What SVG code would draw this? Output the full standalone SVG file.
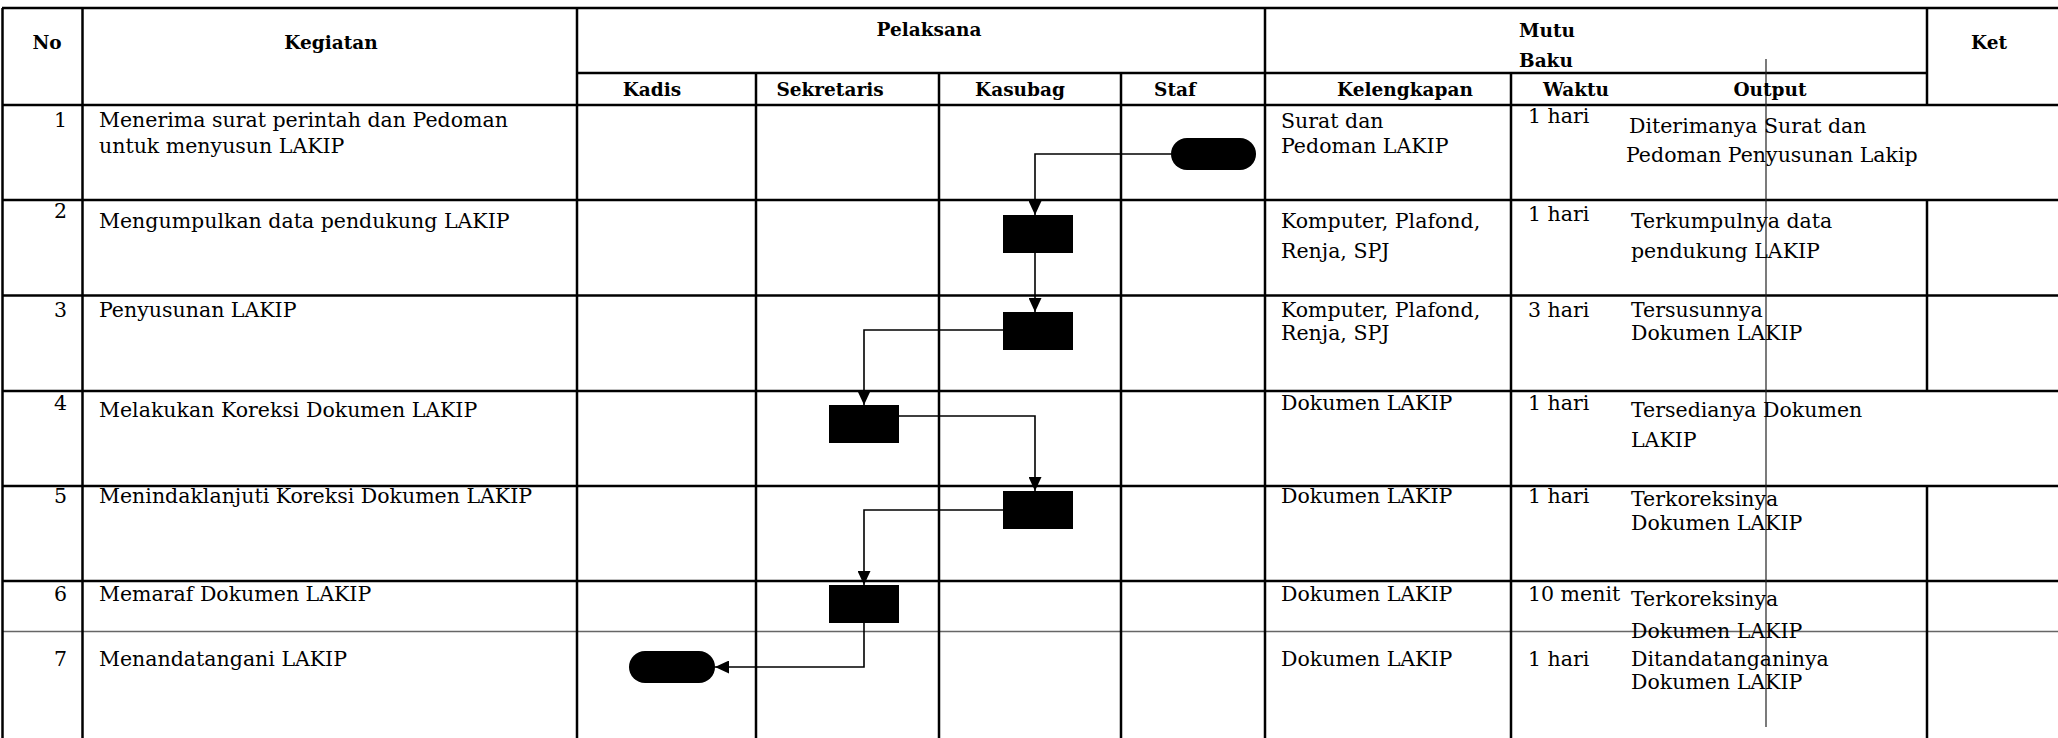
<svg xmlns="http://www.w3.org/2000/svg" width="2058" height="738" viewBox="0 0 2058 738">
<style>
.g{stroke:#000;stroke-width:2.5;fill:none}
.g2{stroke:#666;stroke-width:1.5;fill:none}
.stray{stroke:#222;stroke-width:1.2;fill:none}
.h{font-family:"DejaVu Serif","Liberation Serif",serif;font-weight:bold;font-size:18.5px;fill:#000}
.t{font-family:"DejaVu Serif","Liberation Serif",serif;font-size:20.5px;fill:#000}
.n{text-anchor:end}
.m{text-anchor:middle}
.c{stroke:#000;stroke-width:1.6;fill:none}
.box{fill:#000}
</style>
<defs>
<marker id="arr" markerUnits="userSpaceOnUse" markerWidth="14" markerHeight="13" refX="14" refY="6.5" orient="auto">
<path d="M0,0 L14,6.5 L0,13 Z" fill="#000"/>
</marker>
</defs>
<rect width="2058" height="738" fill="#fff"/>
<g id="table">
<line class="g" x1="2" y1="8" x2="2058" y2="8"/>
<line class="g" x1="577" y1="73" x2="1927" y2="73"/>
<line class="g" x1="2" y1="105" x2="2058" y2="105"/>
<line class="g" x1="2" y1="200" x2="2058" y2="200"/>
<line class="g" x1="2" y1="295.5" x2="2058" y2="295.5"/>
<line class="g" x1="2" y1="391" x2="2058" y2="391"/>
<line class="g" x1="2" y1="486" x2="2058" y2="486"/>
<line class="g" x1="2" y1="581" x2="2058" y2="581"/>
<line class="g2" x1="2" y1="631.5" x2="2058" y2="631.5"/>
<line class="g" x1="2.5" y1="8" x2="2.5" y2="738"/>
<line class="g" x1="82.5" y1="8" x2="82.5" y2="738"/>
<line class="g" x1="577" y1="8" x2="577" y2="738"/>
<line class="g" x1="756" y1="73" x2="756" y2="738"/>
<line class="g" x1="939" y1="73" x2="939" y2="738"/>
<line class="g" x1="1121" y1="73" x2="1121" y2="738"/>
<line class="g" x1="1265" y1="8" x2="1265" y2="738"/>
<line class="g" x1="1511" y1="73" x2="1511" y2="738"/>
<line class="g" x1="1927" y1="8" x2="1927" y2="105"/>
<line class="g" x1="1927" y1="200" x2="1927" y2="391"/>
<line class="g" x1="1927" y1="486" x2="1927" y2="738"/>
<line class="stray" x1="1766" y1="59" x2="1766" y2="727"/>
</g>
<g id="header">
<text class="h m" x="47" y="49">No</text>
<text class="h m" x="331" y="49">Kegiatan</text>
<text class="h m" x="929" y="36">Pelaksana</text>
<text class="h" x="1519" y="37">Mutu</text>
<text class="h" x="1519" y="67">Baku</text>
<text class="h m" x="1989" y="49">Ket</text>
<text class="h m" x="652" y="96">Kadis</text>
<text class="h m" x="830" y="96">Sekretaris</text>
<text class="h m" x="1020" y="96">Kasubag</text>
<text class="h m" x="1175" y="96">Staf</text>
<text class="h m" x="1405" y="96">Kelengkapan</text>
<text class="h m" x="1576" y="96">Waktu</text>
<text class="h m" x="1770" y="96">Output</text>
</g>
<g id="rows">
<text class="t n" x="67" y="127">1</text>
<text class="t" x="99" y="127">Menerima surat perintah dan Pedoman</text>
<text class="t" x="99" y="153">untuk menyusun LAKIP</text>
<text class="t" x="1281" y="128">Surat dan</text>
<text class="t" x="1281" y="153">Pedoman LAKIP</text>
<text class="t" x="1528" y="123">1 hari</text>
<text class="t" x="1629" y="133">Diterimanya Surat dan</text>
<text class="t" x="1626" y="162">Pedoman Penyusunan Lakip</text>

<text class="t n" x="67" y="218">2</text>
<text class="t" x="99" y="228">Mengumpulkan data pendukung LAKIP</text>
<text class="t" x="1281" y="228">Komputer, Plafond,</text>
<text class="t" x="1281" y="258">Renja, SPJ</text>
<text class="t" x="1528" y="221">1 hari</text>
<text class="t" x="1631" y="228">Terkumpulnya data</text>
<text class="t" x="1631" y="258">pendukung LAKIP</text>

<text class="t n" x="67" y="317">3</text>
<text class="t" x="99" y="317">Penyusunan LAKIP</text>
<text class="t" x="1281" y="317">Komputer, Plafond,</text>
<text class="t" x="1281" y="340">Renja, SPJ</text>
<text class="t" x="1528" y="317">3 hari</text>
<text class="t" x="1631" y="317">Tersusunnya</text>
<text class="t" x="1631" y="340">Dokumen LAKIP</text>

<text class="t n" x="67" y="410">4</text>
<text class="t" x="99" y="417">Melakukan Koreksi Dokumen LAKIP</text>
<text class="t" x="1281" y="410">Dokumen LAKIP</text>
<text class="t" x="1528" y="410">1 hari</text>
<text class="t" x="1631" y="417">Tersedianya Dokumen</text>
<text class="t" x="1631" y="447">LAKIP</text>

<text class="t n" x="67" y="503">5</text>
<text class="t" x="99" y="503">Menindaklanjuti Koreksi Dokumen LAKIP</text>
<text class="t" x="1281" y="503">Dokumen LAKIP</text>
<text class="t" x="1528" y="503">1 hari</text>
<text class="t" x="1631" y="506">Terkoreksinya</text>
<text class="t" x="1631" y="530">Dokumen LAKIP</text>

<text class="t n" x="67" y="601">6</text>
<text class="t" x="99" y="601">Memaraf Dokumen LAKIP</text>
<text class="t" x="1281" y="601">Dokumen LAKIP</text>
<text class="t" x="1528" y="601">10 menit</text>
<text class="t" x="1631" y="606">Terkoreksinya</text>
<text class="t" x="1631" y="638">Dokumen LAKIP</text>

<text class="t n" x="67" y="666">7</text>
<text class="t" x="99" y="666">Menandatangani LAKIP</text>
<text class="t" x="1281" y="666">Dokumen LAKIP</text>
<text class="t" x="1528" y="666">1 hari</text>
<text class="t" x="1631" y="666">Ditandatanganinya</text>
<text class="t" x="1631" y="689">Dokumen LAKIP</text>
</g>
<g id="connectors">
<path class="c" d="M1171,154 H1035 V215" marker-end="url(#arr)"/>
<path class="c" d="M1035,253 V312" marker-end="url(#arr)"/>
<path class="c" d="M1003,330 H864 V405" marker-end="url(#arr)"/>
<path class="c" d="M899,416 H1035 V491" marker-end="url(#arr)"/>
<path class="c" d="M1003,510 H864 V585" marker-end="url(#arr)"/>
<path class="c" d="M864,623 V667 H715" marker-end="url(#arr)"/>
</g>
<g id="start"><rect class="box" x="1171" y="138" width="85" height="32" rx="16"/></g>
<g id="step2"><rect class="box" x="1003" y="215" width="70" height="38"/></g>
<g id="step3"><rect class="box" x="1003" y="312" width="70" height="38"/></g>
<g id="step4"><rect class="box" x="829" y="405" width="70" height="38"/></g>
<g id="step5"><rect class="box" x="1003" y="491" width="70" height="38"/></g>
<g id="step6"><rect class="box" x="829" y="585" width="70" height="38"/></g>
<g id="end"><rect class="box" x="629" y="651" width="86" height="32" rx="16"/></g>
</svg>
